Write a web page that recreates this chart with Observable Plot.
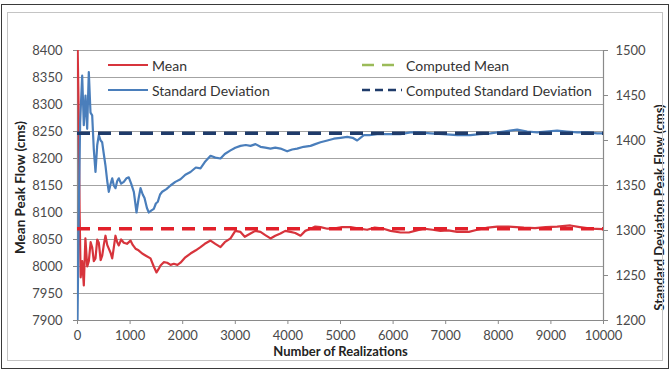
<!DOCTYPE html>
<html>
<head>
<meta charset="utf-8">
<script src="https://cdn.jsdelivr.net/npm/d3@7"></script>
<script src="https://cdn.jsdelivr.net/npm/@observablehq/plot@0.6"></script>
<style>
  html, body { margin: 0; padding: 0; background: #fff; }
  #wrap { position: relative; width: 670px; height: 370px; font-family: Lato, "Open Sans", sans-serif; }
  #chart svg { display: block; }
  .frame { position: absolute; pointer-events: none; box-sizing: border-box; }
  #outer { left: 1px; top: 4px; width: 668px; height: 365px; border: 1px solid #3a3a3a; }
  #inner { left: 7px; top: 12px; width: 656px; height: 349px; border: 1px solid #c4c4c4; }
  .leg { position: absolute; display: flex; align-items: center; font-size: 14px; color: #333; white-space: nowrap; }
  .leg svg { margin-right: 4px; }
</style>
</head>
<body>
<div id="wrap">
  <div id="chart"></div>
  <div class="frame" id="outer"></div>
  <div class="frame" id="inner"></div>
  <div id="legend"></div>
</div>
<script>
// ---- data ----
const meanX = [0,20,40,60,90,120,150,185,215,250,280,310,342,375,405,440,470,500,532,565,595,630,660,690,722,755,785,830,880,940,1008,1050,1103,1160,1230,1300,1388,1450,1502,1540,1578,1640,1705,1770,1831,1900,1958,2050,2148,2250,2338,2420,2529,2620,2719,2800,2909,3000,3099,3180,3289,3380,3479,3570,3669,3760,3859,3950,4049,4140,4240,4330,4430,4520,4620,4750,4867,5030,5190,5350,5507,5650,5817,5951,6141,6300,6450,6578,6750,6900,7050,7218,7440,7600,7800,7979,8200,8486,8700,8900,9119,9370,9550,9753,10000];
const meanY = [8420,8300,8100,7980,8010,7965,8052,8000,8010,8045,8035,8010,8015,8050,8044,8012,8020,8040,8057,8040,8033,8025,8015,8035,8057,8045,8039,8050,8044,8042,8048,8040,8033,8030,8024,8020,8015,8000,7989,7995,8002,8008,8007,8003,8005,8003,8007,8017,8024,8030,8036,8042,8048,8042,8036,8045,8052,8066,8064,8055,8061,8066,8064,8058,8052,8057,8061,8066,8064,8062,8057,8066,8070,8074,8073,8070,8070,8073,8073,8070,8068,8072,8070,8066,8063,8063,8067,8070,8068,8066,8067,8064,8064,8068,8072,8074,8074,8072,8071,8073,8074,8076,8073,8070,8069];

const sdX = [0,20,50,89,120,152,184,215,247,279,310,342,375,405,440,469,500,532,565,595,630,660,690,722,755,785,830,880,930,975,1020,1071,1100,1122,1160,1198,1240,1274,1320,1356,1400,1451,1490,1527,1570,1610,1690,1768,1860,1958,2050,2148,2250,2338,2420,2529,2620,2719,2800,2909,3000,3099,3200,3289,3384,3479,3570,3669,3760,3859,3986,4080,4176,4300,4430,4520,4620,4750,4873,5000,5127,5230,5317,5444,5550,5697,5900,6141,6331,6500,6710,6950,7218,7471,7650,7852,8100,8359,8550,8739,8900,9119,9300,9499,9700,9880,10000];
const sdY = [1200,1300,1420,1472,1417,1450,1413,1476,1431,1428,1390,1365,1395,1406,1400,1398,1385,1372,1355,1343,1352,1358,1350,1347,1355,1358,1352,1354,1358,1359,1352,1343,1330,1320,1335,1347,1340,1336,1325,1320,1322,1324,1330,1332,1340,1343,1346,1350,1354,1357,1362,1365,1370,1369,1376,1383,1381,1380,1385,1389,1392,1394,1395,1394,1396,1393,1392,1391,1392,1391,1388,1390,1391,1393,1394,1396,1398,1400,1402,1403,1404,1403,1400,1406,1406,1407,1407,1407,1409,1409,1408,1407,1406,1406,1407,1408,1410,1412,1410,1409,1410,1411,1410,1409,1409,1408,1408];

const computedMean = [8070];
const computedSD = [1408];

const leftTicks = [7900,7950,8000,8050,8100,8150,8200,8250,8300,8350,8400];
const rightTicks = [1200,1250,1300,1350,1400,1450,1500];
const xTicks = [0,1000,2000,3000,4000,5000,6000,7000,8000,9000,10000];

const seriesNames = ["Mean", "Standard Deviation", "Computed Mean", "Computed Standard Deviation"];
const axisTitles = {left: "Mean Peak Flow (cms)", right: "Standard Deviation Peak Flow (cms)", x: "Number of Realizations"};

// ---- styles ----
const C = {mean: "#d7343c", sd: "#4a7ebb", cMean: "#e2202a", cMeanLegend: "#9bbb59", cSD: "#1f3b6a", grid: "#a3a3a3", axis: "#8a8a8a"};

// right axis (SD) mapped onto the left axis scale
const L0 = 7900, L1 = 8400, R0 = 1200, R1 = 1500;
const toLeft = sd => L0 + (sd - R0) * (L1 - L0) / (R1 - R0);
const fromLeft = v => Math.round(R0 + (v - L0) * (R1 - R0) / (L1 - L0));

const meanData = meanX.map((x, i) => ({x, y: meanY[i]}));
const sdData = sdX.map((x, i) => ({x, y: sdY[i]}));

const chart = Plot.plot({
  width: 670,
  height: 370,
  marginLeft: 77,
  marginRight: 67,
  marginTop: 50,
  marginBottom: 50,
  x: {domain: [0, 10000]},
  y: {domain: [L0, L1]},
  style: {fontFamily: "Lato, 'Open Sans', sans-serif", fontSize: "13px", color: "#4a4a4a", background: "transparent", overflow: "visible"},
  marks: [
    Plot.gridY(leftTicks, {stroke: C.grid, strokeOpacity: 1, strokeWidth: 1}),
    Plot.ruleX([0], {stroke: C.axis, strokeWidth: 1.2}),
    Plot.ruleX([10000], {stroke: C.axis, strokeWidth: 1.2}),
    Plot.ruleY([L0], {stroke: C.axis, strokeWidth: 1.2}),
    Plot.axisY(leftTicks, {anchor: "left", tickSize: 4, tickPadding: 11, stroke: C.axis, tickFormat: d3.format("d"), label: null}),
    Plot.axisY(rightTicks.map(toLeft), {anchor: "right", tickSize: 4, tickPadding: 8, stroke: C.axis, tickFormat: d => String(fromLeft(d)), label: null}),
    Plot.axisX(xTicks, {anchor: "bottom", tickSize: 4, tickPadding: 6, stroke: C.axis, tickFormat: d3.format("d"), label: null}),
    Plot.line(meanData, {x: "x", y: "y", stroke: C.mean, strokeWidth: 2.2, clip: true}),
    Plot.line(sdData, {x: "x", y: d => toLeft(d.y), stroke: C.sd, strokeWidth: 2.2, clip: true}),
    Plot.ruleY(computedMean, {y: d => d, stroke: C.cMean, strokeWidth: 3.5, strokeDasharray: "13,8"}),
    Plot.ruleY(computedSD, {y: d => toLeft(d), stroke: C.cSD, strokeWidth: 3.5, strokeDasharray: "13,8"}),
    Plot.text([axisTitles.left], {frameAnchor: "left", textAnchor: "middle", dx: -57, dy: 2, rotate: -90, fontWeight: "bold", fontSize: 13.5, fill: "#222"}),
    Plot.text([axisTitles.right], {frameAnchor: "right", textAnchor: "middle", dx: 56, dy: 22, rotate: -90, fontWeight: "bold", fontSize: 13, fill: "#222"}),
    Plot.text([axisTitles.x], {frameAnchor: "bottom", textAnchor: "middle", dy: 35, fontWeight: "bold", fontSize: 13, fill: "#222"})
  ]
});
document.getElementById("chart").appendChild(chart);

// ---- legend (HTML, inside plot area) ----
const legendItems = [
  {name: seriesNames[0], color: C.mean, dash: null, w: 2, left: 108, top: 65},
  {name: seriesNames[1], color: C.sd, dash: null, w: 2, left: 108, top: 90},
  {name: seriesNames[2], color: C.cMeanLegend, dash: "12,8", w: 2.5, left: 362, top: 65},
  {name: seriesNames[3], color: C.cSD, dash: "8,5", w: 2.5, left: 362, top: 90}
];
const legend = document.getElementById("legend");
legendItems.forEach(it => {
  const div = document.createElement("div");
  div.className = "leg";
  div.style.left = it.left + "px";
  div.style.top = (it.top - 9) + "px";
  div.style.height = "18px";
  div.innerHTML = `<svg width="40" height="8"><line x1="0" x2="40" y1="4" y2="4" stroke="${it.color}" stroke-width="${it.w}" ${it.dash ? `stroke-dasharray="${it.dash}"` : ""}/></svg><span>${it.name}</span>`;
  legend.appendChild(div);
});
</script>
</body>
</html>
